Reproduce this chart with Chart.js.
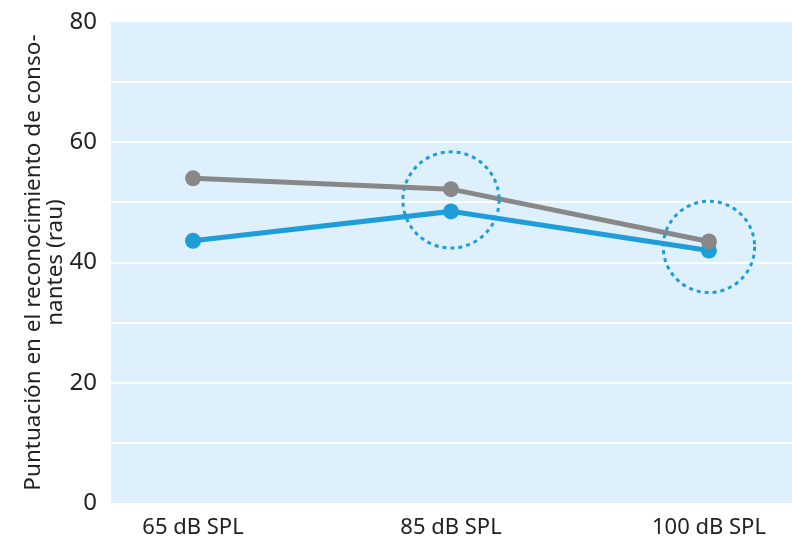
<!DOCTYPE html>
<html>
<head>
<meta charset="utf-8">
<script src="https://cdn.jsdelivr.net/npm/chart.js@4"></script>
<style>
html,body{margin:0;padding:0;background:#fff;}
#wrap{width:792px;height:546px;position:relative;}
</style>
</head>
<body>
<div id="wrap"><canvas id="c" width="792" height="546"></canvas></div>
<script>
const categories = ["65 dB SPL", "85 dB SPL", "100 dB SPL"];
const graySeries = [54.0, 52.2, 43.5];
const blueSeries = [43.6, 48.5, 42.0];
const yTicks = [0, 20, 40, 60, 80];
const highlightX = [1, 2];
const highlightY = [50.4, 42.6];
const highlightR = [8.0, 7.6];

const FONT = "'Noto Sans', sans-serif";
const BLUE = '#1f9dd9';
const GRAY = '#888888';

const bgPlugin = {
  id: 'bg',
  beforeDraw(chart) {
    const {ctx, chartArea: a} = chart;
    ctx.save();
    ctx.fillStyle = '#def0fb';
    ctx.fillRect(a.left, a.top, a.right - a.left, a.bottom - a.top);
    ctx.restore();
  }
};

const circlePlugin = {
  id: 'circles',
  afterDatasetsDraw(chart) {
    const {ctx, scales: {x, y}} = chart;
    ctx.save();
    ctx.strokeStyle = BLUE;
    ctx.lineWidth = 3;
    ctx.setLineDash([4, 4]);
    for (let i = 0; i < highlightX.length; i++) {
      const cx = x.getPixelForValue(highlightX[i]);
      const cy = y.getPixelForValue(highlightY[i]);
      const r = Math.abs(y.getPixelForValue(highlightY[i] + highlightR[i]) - cy);
      ctx.beginPath();
      ctx.arc(cx, cy, r, 0, Math.PI * 2);
      ctx.stroke();
    }
    ctx.restore();
  }
};

new Chart(document.getElementById('c'), {
  type: 'line',
  data: {
    datasets: [
      {
        data: graySeries.map((v, i) => ({x: i, y: v})),
        borderColor: GRAY, backgroundColor: GRAY,
        borderWidth: 5, pointRadius: 8, pointHoverRadius: 8, pointBorderWidth: 0
      },
      {
        data: blueSeries.map((v, i) => ({x: i, y: v})),
        borderColor: BLUE, backgroundColor: BLUE,
        borderWidth: 5, pointRadius: 8, pointHoverRadius: 8, pointBorderWidth: 0
      }
    ]
  },
  options: {
    responsive: false,
    animation: false,
    layout: {autoPadding: false, padding: {top: 22, right: 0, left: 0, bottom: 0}},
    plugins: {legend: {display: false}, tooltip: {enabled: false}},
    scales: {
      x: {
        type: 'linear',
        min: -0.318, max: 2.322,
        afterBuildTicks(s) { s.ticks = categories.map((c, i) => ({value: i})); },
        afterFit(s) { s.height = 43; s.paddingLeft = 0; s.paddingRight = 0; },
        grid: {display: false, drawTicks: false},
        border: {display: false},
        ticks: {
          callback: (v) => categories[v] ?? '',
          color: '#222', font: {family: FONT, size: 22}, padding: 12, maxRotation: 0
        }
      },
      y: {
        min: 0, max: 80,
        afterBuildTicks(s) {
          const t = [];
          for (let v = 0; v <= 80; v += 10) t.push({value: v});
          s.ticks = t;
        },
        afterFit(s) { s.width = 111; s.paddingTop = 0; s.paddingBottom = 0; },
        grid: {
          color: (c) => (c.tick.value === 0 || c.tick.value === 80) ? 'rgba(0,0,0,0)' : '#ffffff',
          lineWidth: 2, drawTicks: false
        },
        border: {display: false},
        ticks: {
          callback: (v) => yTicks.includes(v) ? String(v) : '',
          color: '#222', font: {family: FONT, size: 24}, padding: 14
        },
        title: {
          display: true,
          text: ['Puntuación en el reconocimiento de conso-', 'nantes (rau)'],
          color: '#222', font: {family: FONT, size: 22.5, lineHeight: 1.0}, padding: {top: 22, bottom: 0}
        }
      }
    }
  },
  plugins: [bgPlugin, circlePlugin]
});
</script>
</body>
</html>
